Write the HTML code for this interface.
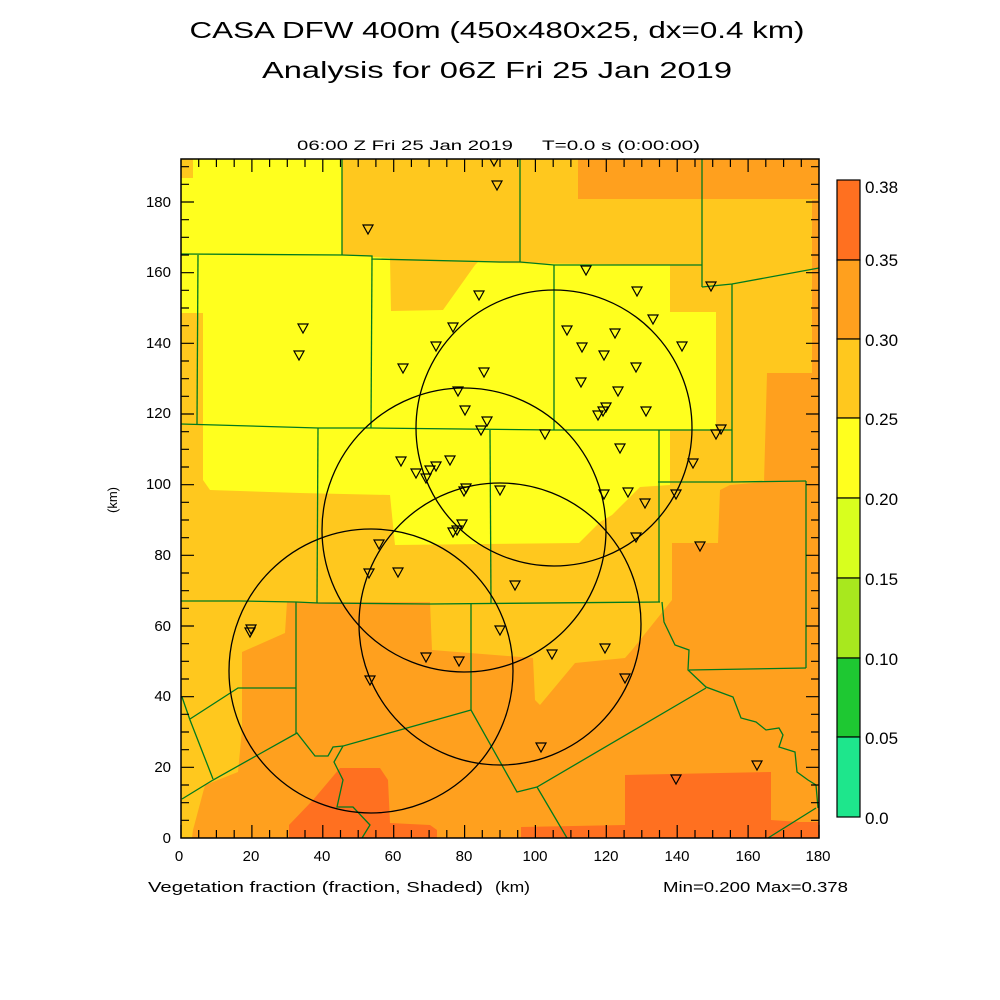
<!DOCTYPE html>
<html><head><meta charset="utf-8"><style>
html,body{margin:0;padding:0;background:#fff;}
svg{display:block;}
text{font-family:"Liberation Sans",sans-serif;fill:#000;}
</style></head><body>
<svg width="1000" height="1000" viewBox="0 0 1000 1000" xmlns="http://www.w3.org/2000/svg">
<defs>
<clipPath id="pc"><rect x="181" y="159" width="638" height="679"/></clipPath>
<g id="tri"><path d="M-5,-4 L5,-4 L0,5 Z M-5,-4 L5,-4" fill="none" stroke="#000" stroke-width="1.2"/></g>
</defs>

<text x="497" y="38" font-size="23" text-anchor="middle" textLength="615" lengthAdjust="spacingAndGlyphs">CASA DFW 400m (450x480x25, dx=0.4 km)</text>
<text x="497" y="78" font-size="23" text-anchor="middle" textLength="470" lengthAdjust="spacingAndGlyphs">Analysis for 06Z Fri 25 Jan 2019</text>
<text x="297" y="150" font-size="14" textLength="216" lengthAdjust="spacingAndGlyphs">06:00 Z Fri 25 Jan 2019</text>
<text x="542" y="150" font-size="14" textLength="158" lengthAdjust="spacingAndGlyphs">T=0.0 s (0:00:00)</text>

<g clip-path="url(#pc)">
<rect x="181" y="159" width="638" height="679" fill="#ffc81e"/>
<polygon fill="#ffff1e" points="193,159 342,159 342,255 390,258 391,311 443,310 475,265 478,262 500,263 670,265 670,312 716,312 716,430 670,430 670,485 640,487 612,515 600,522 579,543 395,545 390,495 300,493 210,490 203,480 203,313 181,313 181,178 193,178"/>
<rect x="578" y="159" width="241" height="40" fill="#ffa01e"/>
<polygon fill="#ffa01e" points="812,200 819,200 819,838 192,838 193,830 205,785 238,772 242,730 242,652 285,633 287,602 430,602 432,650 533,658 535,700 540,705 575,663 625,658 632,650 672,600 672,543 718,543 720,490 730,485 764,482 767,373 812,373"/>
<polygon fill="#ff7020" points="289,838 289,825 313,800 340,768 380,768 388,780 390,823 430,825 437,830 437,838"/>
<polygon fill="#ff7020" points="521,838 521,827 625,825 625,775 771,772 771,820 800,822 819,822 819,838"/>

<g fill="none" stroke="#007a1e" stroke-width="1.3">
<polyline points="181,254 342,255 372,256 372,259 500,262 520,262 554,265 702,265"/>
<line x1="342" y1="159" x2="342" y2="255"/>
<line x1="520" y1="159" x2="520" y2="262"/>
<line x1="702" y1="159" x2="702" y2="287"/>
<polyline points="702,287 732,284 819,268"/>
<line x1="198" y1="255" x2="197" y2="424"/>
<line x1="372" y1="259" x2="371" y2="428"/>
<line x1="554" y1="265" x2="554" y2="430"/>
<polyline points="181,424 318,428 372,428 554,430 732,430"/>
<line x1="732" y1="284" x2="732" y2="482"/>
<polyline points="658,482 732,482 806,481"/>
<line x1="806" y1="481" x2="806" y2="668"/>
<line x1="689" y1="670" x2="806" y2="668"/>
<line x1="318" y1="428" x2="317" y2="603"/>
<line x1="490" y1="430" x2="491" y2="603"/>
<line x1="659" y1="430" x2="659" y2="602"/>
<polyline points="181,601 240,601 296,602 318,603 430,604 660,602"/>
<line x1="296" y1="602" x2="296" y2="733"/>
<line x1="471" y1="603" x2="471" y2="710"/>
<polyline points="662,602 664,622 675,645 689,650 688,670 706,687 733,697 741,718 756,722 766,730 779,728 783,735 779,747 795,752 797,772 808,780 816,785 818,808"/>
<polyline points="706,688 537,787 517,792 471,710 343,746 334,762 343,780 337,807 353,807 370,825 362,838"/>
<polyline points="343,746 333,747 328,756 315,756 297,733 213,780 182,799"/>
<polyline points="182,697 190,720 213,779"/>
<polyline points="190,719 238,688 296,688"/>
<line x1="537" y1="787" x2="567" y2="838"/>
<line x1="816" y1="808" x2="768" y2="838"/>
</g>

<g fill="none" stroke="#000" stroke-width="1.3">
<circle cx="554" cy="428" r="138"/>
<circle cx="464" cy="530" r="142"/>
<circle cx="500" cy="624" r="141"/>
<circle cx="371" cy="671" r="142"/>
</g>

<g>
<use href="#tri" x="494" y="161"/><use href="#tri" x="497" y="185"/><use href="#tri" x="368" y="229"/>
<use href="#tri" x="586" y="270"/><use href="#tri" x="637" y="291"/><use href="#tri" x="711" y="286"/>
<use href="#tri" x="653" y="319"/><use href="#tri" x="479" y="295"/><use href="#tri" x="453" y="327"/>
<use href="#tri" x="303" y="328"/><use href="#tri" x="299" y="355"/><use href="#tri" x="567" y="330"/>
<use href="#tri" x="615" y="333"/><use href="#tri" x="582" y="347"/><use href="#tri" x="682" y="346"/>
<use href="#tri" x="436" y="346"/><use href="#tri" x="604" y="355"/><use href="#tri" x="636" y="367"/>
<use href="#tri" x="403" y="368"/><use href="#tri" x="484" y="372"/><use href="#tri" x="581" y="382"/>
<use href="#tri" x="458" y="391"/><use href="#tri" x="618" y="391"/><use href="#tri" x="606" y="407"/>
<use href="#tri" x="603" y="411"/><use href="#tri" x="646" y="411"/><use href="#tri" x="598" y="415"/>
<use href="#tri" x="465" y="410"/><use href="#tri" x="487" y="421"/><use href="#tri" x="481" y="430"/>
<use href="#tri" x="721" y="429"/><use href="#tri" x="716" y="434"/><use href="#tri" x="545" y="434"/>
<use href="#tri" x="620" y="448"/><use href="#tri" x="450" y="460"/><use href="#tri" x="401" y="461"/>
<use href="#tri" x="416" y="473"/><use href="#tri" x="436" y="466"/><use href="#tri" x="430" y="470"/>
<use href="#tri" x="426" y="478"/><use href="#tri" x="693" y="463"/><use href="#tri" x="466" y="488"/>
<use href="#tri" x="464" y="491"/><use href="#tri" x="500" y="490"/><use href="#tri" x="604" y="494"/>
<use href="#tri" x="628" y="492"/><use href="#tri" x="645" y="503"/><use href="#tri" x="676" y="494"/>
<use href="#tri" x="636" y="537"/><use href="#tri" x="700" y="546"/><use href="#tri" x="462" y="524"/>
<use href="#tri" x="457" y="530"/><use href="#tri" x="453" y="532"/><use href="#tri" x="379" y="544"/>
<use href="#tri" x="369" y="573"/><use href="#tri" x="398" y="572"/><use href="#tri" x="515" y="585"/>
<use href="#tri" x="251" y="629"/><use href="#tri" x="250" y="632"/><use href="#tri" x="500" y="630"/>
<use href="#tri" x="605" y="648"/><use href="#tri" x="552" y="654"/><use href="#tri" x="426" y="657"/>
<use href="#tri" x="459" y="661"/><use href="#tri" x="625" y="678"/><use href="#tri" x="370" y="680"/>
<use href="#tri" x="541" y="747"/><use href="#tri" x="676" y="779"/><use href="#tri" x="757" y="765"/>
</g>
</g>

<rect x="181" y="159" width="638" height="679" fill="none" stroke="#000" stroke-width="1.5"/>
<g stroke="#000" stroke-width="1.2">
<path d="
M181,838v-13 M198.7,838v-8 M216.4,838v-8 M234.2,838v-8 M251.9,838v-13 M269.6,838v-8 M287.3,838v-8 M305,838v-8 M322.8,838v-13 M340.5,838v-8 M358.2,838v-8 M375.9,838v-8 M393.7,838v-13 M411.4,838v-8 M429.1,838v-8 M446.8,838v-8 M464.6,838v-13 M482.3,838v-8 M500,838v-8 M517.7,838v-8 M535.4,838v-13 M553.2,838v-8 M570.9,838v-8 M588.6,838v-8 M606.3,838v-13 M624.1,838v-8 M641.8,838v-8 M659.5,838v-8 M677.2,838v-13 M695,838v-8 M712.7,838v-8 M730.4,838v-8 M748.1,838v-13 M765.8,838v-8 M783.6,838v-8 M801.3,838v-8 M819,838v-13
M198.7,159v8 M216.4,159v8 M234.2,159v8 M251.9,159v13 M269.6,159v8 M287.3,159v8 M305,159v8 M322.8,159v13 M340.5,159v8 M358.2,159v8 M375.9,159v8 M393.7,159v13 M411.4,159v8 M429.1,159v8 M446.8,159v8 M464.6,159v13 M482.3,159v8 M500,159v8 M517.7,159v8 M535.4,159v13 M553.2,159v8 M570.9,159v8 M588.6,159v8 M606.3,159v13 M624.1,159v8 M641.8,159v8 M659.5,159v8 M677.2,159v13 M695,159v8 M712.7,159v8 M730.4,159v8 M748.1,159v13 M765.8,159v8 M783.6,159v8 M801.3,159v8
"/>
<path d="
M181,820.3h8 M181,802.7h8 M181,785h8 M181,767.3h13 M181,749.7h8 M181,732h8 M181,714.3h8 M181,696.7h13 M181,679h8 M181,661.3h8 M181,643.7h8 M181,626h13 M181,608.3h8 M181,590.7h8 M181,573h8 M181,555.3h13 M181,537.7h8 M181,520h8 M181,502.3h8 M181,484.7h13 M181,467h8 M181,449.3h8 M181,431.7h8 M181,414h13 M181,396.3h8 M181,378.7h8 M181,361h8 M181,343.3h13 M181,325.7h8 M181,308h8 M181,290.3h8 M181,272.7h13 M181,255h8 M181,237.3h8 M181,219.7h8 M181,202h13 M181,184.3h8 M181,166.7h8
M819,820.3h-8 M819,802.7h-8 M819,785h-8 M819,767.3h-13 M819,749.7h-8 M819,732h-8 M819,714.3h-8 M819,696.7h-13 M819,679h-8 M819,661.3h-8 M819,643.7h-8 M819,626h-13 M819,608.3h-8 M819,590.7h-8 M819,573h-8 M819,555.3h-13 M819,537.7h-8 M819,520h-8 M819,502.3h-8 M819,484.7h-13 M819,467h-8 M819,449.3h-8 M819,431.7h-8 M819,414h-13 M819,396.3h-8 M819,378.7h-8 M819,361h-8 M819,343.3h-13 M819,325.7h-8 M819,308h-8 M819,290.3h-8 M819,272.7h-13 M819,255h-8 M819,237.3h-8 M819,219.7h-8 M819,202h-13 M819,184.3h-8 M819,166.7h-8
"/>
</g>

<g font-size="15" text-anchor="end">
<text x="171" y="843">0</text><text x="171" y="772">20</text><text x="171" y="701">40</text>
<text x="171" y="631">60</text><text x="171" y="560">80</text><text x="171" y="489">100</text>
<text x="171" y="418">120</text><text x="171" y="348">140</text><text x="171" y="277">160</text>
<text x="171" y="207">180</text>
</g>
<g font-size="15" text-anchor="middle">
<text x="179" y="861">0</text><text x="251" y="861">20</text><text x="322" y="861">40</text>
<text x="393" y="861">60</text><text x="464" y="861">80</text><text x="535" y="861">100</text>
<text x="606" y="861">120</text><text x="677" y="861">140</text><text x="748" y="861">160</text>
<text x="818" y="861">180</text>
</g>
<text x="0" y="0" font-size="13" text-anchor="middle" transform="translate(117,500) rotate(-90)">(km)</text>
<text x="148" y="892" font-size="15" textLength="335" lengthAdjust="spacingAndGlyphs">Vegetation fraction (fraction, Shaded)</text>
<text x="495" y="892" font-size="15" textLength="35" lengthAdjust="spacingAndGlyphs">(km)</text>
<text x="663" y="892" font-size="15" textLength="185" lengthAdjust="spacingAndGlyphs">Min=0.200 Max=0.378</text>

<g stroke="#000" stroke-width="1.2">
<rect x="837" y="180" width="23" height="80" fill="#ff7020"/>
<rect x="837" y="260" width="23" height="79" fill="#ffa01e"/>
<rect x="837" y="339" width="23" height="79" fill="#ffc81e"/>
<rect x="837" y="418" width="23" height="80" fill="#ffff1e"/>
<rect x="837" y="498" width="23" height="80" fill="#d8ff1e"/>
<rect x="837" y="578" width="23" height="80" fill="#a8e81e"/>
<rect x="837" y="658" width="23" height="79" fill="#1ec832"/>
<rect x="837" y="737" width="23" height="80" fill="#1ee68c"/>
</g>
<g font-size="17">
<text x="865" y="193">0.38</text><text x="865" y="266">0.35</text><text x="865" y="346">0.30</text>
<text x="865" y="425">0.25</text><text x="865" y="505">0.20</text><text x="865" y="585">0.15</text>
<text x="865" y="665">0.10</text><text x="865" y="744">0.05</text><text x="865" y="824">0.0</text>
</g>
</svg>
</body></html>
